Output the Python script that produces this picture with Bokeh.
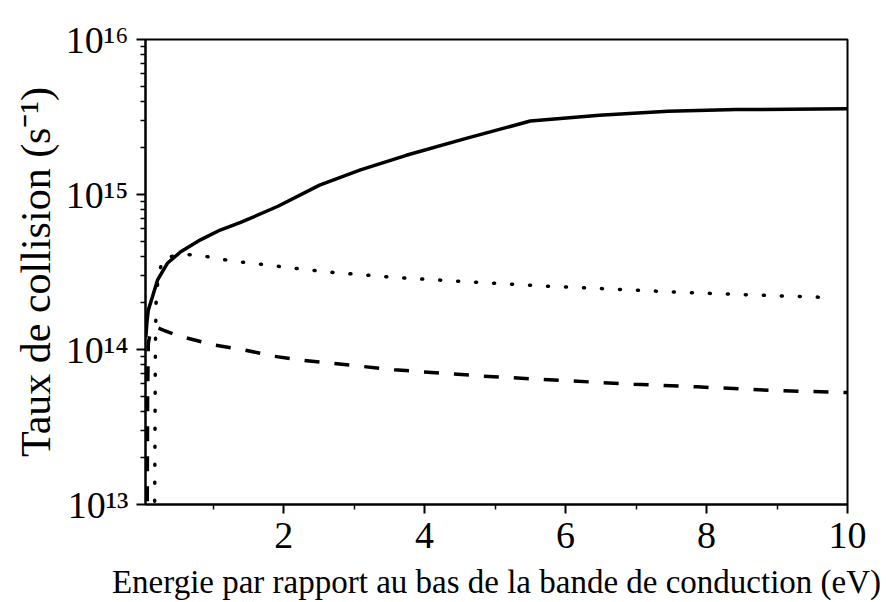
from bokeh.plotting import figure
from bokeh.models import FixedTicker
from bokeh.embed import file_html
from bokeh.resources import INLINE

# ---- data ----
solid_x = [0.045, 0.06, 0.08, 0.14, 0.21, 0.35, 0.54, 0.82, 1.1, 1.39, 1.92, 2.51, 3.09, 3.74, 4.59, 5.5, 6.48, 7.45, 8.42, 10.0]
solid_y = [1.2e14, 1.5e14, 1.8e14, 2.2e14, 2.8e14, 3.6e14, 4.27e14, 5.1e14, 5.9e14, 6.6e14, 8.4e14, 1.15e15, 1.44e15, 1.79e15, 2.3e15, 2.98e15, 3.24e15, 3.44e15, 3.53e15, 3.57e15]

dotted_x = [0.17, 0.175, 0.18, 0.19, 0.22, 0.29, 0.54, 0.8, 1.06, 1.32, 1.58, 2.09, 2.6, 3.61, 4.65, 5.68, 6.69, 7.72, 8.77, 9.8]
dotted_y = [1.05e13, 3e13, 1e14, 2e14, 3e14, 3.86e14, 4.12e14, 4.06e14, 3.86e14, 3.7e14, 3.59e14, 3.37e14, 3.17e14, 2.91e14, 2.73e14, 2.57e14, 2.45e14, 2.33e14, 2.24e14, 2.16e14]

dashed_x = [0.065, 0.07, 0.08, 0.11, 0.18, 0.3, 0.49, 1.01, 1.46, 1.86, 2.29, 2.71, 3.57, 4.84, 5.69, 6.97, 7.87, 8.91, 10.0]
dashed_y = [1.05e13, 5e13, 1.1e14, 1.3e14, 1.4e14, 1.33e14, 1.23e14, 1.07e14, 9.9e13, 9.05e13, 8.5e13, 8.13e13, 7.4e13, 6.73e13, 6.4e13, 5.97e13, 5.74e13, 5.45e13, 5.27e13]

x_ticks = [2, 4, 6, 8, 10]
x_tick_labels = ["2", "4", "6", "8", "10"]
x_minor_ticks = [1, 3, 5, 7, 9]
y_ticks = [1e13, 1e14, 1e15, 1e16]
y_tick_labels = ["10\u00b9\u00b3", "10\u00b9\u2074", "10\u00b9\u2075", "10\u00b9\u2076"]
y_minor_ticks = [k * 10.0 ** e for e in (13, 14, 15) for k in range(2, 10)]

x_label = "Energie par rapport au bas de la bande de conduction (eV)"
y_label = "Taux de collision (s\u207b\u00b9)"

FONT = "Liberation Serif"
x_start, x_end = 0.04, 10.0
y_start, y_end = 1e13, 1e16

p = figure(width=886, height=602, output_backend="svg", toolbar_location=None,
           x_range=(x_start, x_end), y_range=(y_start, y_end), y_axis_type="log",
           min_border_left=145, min_border_right=39, min_border_top=39, min_border_bottom=97)
p.grid.visible = False
p.outline_line_color = "black"
p.outline_line_width = 2
p.outline_line_alpha = 1.0
p.background_fill_color = "white"
p.border_fill_color = "white"

for ax in (p.xaxis[0], p.yaxis[0]):
    ax.axis_line_width = 2
    ax.axis_line_color = "black"
    ax.major_tick_line_width = 2
    ax.minor_tick_line_width = 1.5
    ax.major_tick_in = 0
    ax.minor_tick_in = 0
    ax.major_tick_out = 9
    ax.minor_tick_out = 5
    ax.major_label_text_font = FONT
    ax.major_label_text_font_size = "38px"
    ax.major_label_text_color = "black"
    ax.axis_label_text_font = FONT
    ax.axis_label_text_font_style = "normal"
    ax.axis_label_text_color = "black"

p.xaxis.ticker = FixedTicker(ticks=x_ticks, minor_ticks=x_minor_ticks)
p.xaxis.major_label_overrides = {v: t for v, t in zip(x_ticks, x_tick_labels)}
p.xaxis.major_label_standoff = 9
p.xaxis.axis_label = x_label
p.xaxis.axis_label_text_font_size = "33px"
p.xaxis.axis_label_standoff = 13

p.yaxis.ticker = FixedTicker(ticks=y_ticks, minor_ticks=y_minor_ticks)
p.yaxis.major_label_overrides = {v: t for v, t in zip(y_ticks, y_tick_labels)}
p.yaxis.major_label_standoff = 8
p.yaxis.axis_label = y_label
p.yaxis.axis_label_text_font_size = "42px"
p.yaxis.axis_label_standoff = 4

p.line(solid_x, solid_y, line_color="black", line_width=3.5)
p.line(dotted_x, dotted_y, line_color="black", line_width=3.5, line_dash="1 17", line_cap="round")
p.line(dashed_x, dashed_y, line_color="black", line_width=3.5, line_dash="15 15")

open("out.html", "w").write(file_html(p, INLINE))
